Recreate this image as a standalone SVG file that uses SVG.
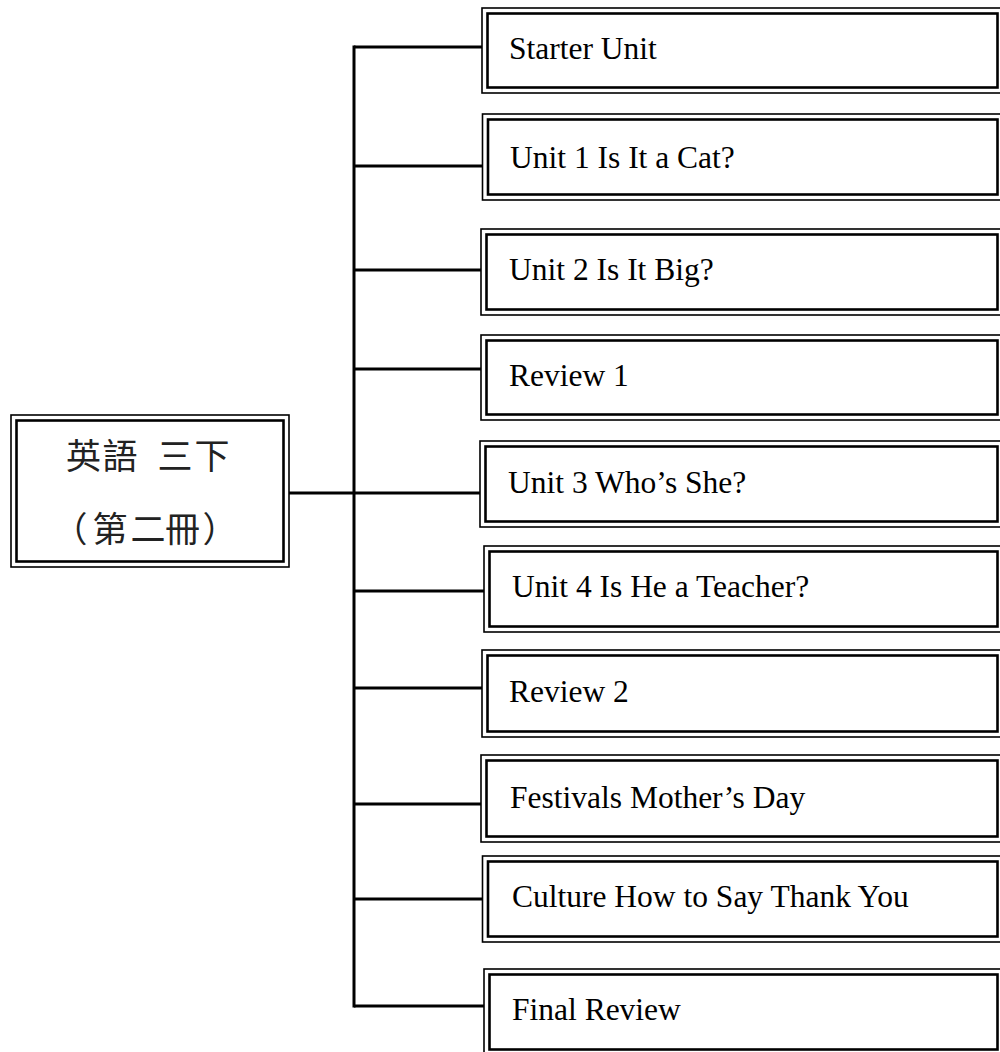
<svg xmlns="http://www.w3.org/2000/svg" width="1000" height="1052" viewBox="0 0 1000 1052">
<style>
.o{fill:#fff;stroke:#000;stroke-width:1.6}
.i{fill:none;stroke:#000;stroke-width:2.6}
.t{font-family:"Liberation Serif","Times New Roman",serif;font-size:31.5px;fill:#000}
.c{font-family:"Noto Sans CJK TC","Noto Sans CJK JP",sans-serif;font-size:35px;fill:#222;text-anchor:middle}
.ln{stroke:#000;stroke-width:3;fill:none}
</style>
<rect width="1000" height="1052" fill="#fff"/>
<g id="connectors">
<line class="ln" x1="354" y1="45.5" x2="354" y2="1007.5"/>
<line class="ln" x1="289" y1="493" x2="354" y2="493"/>
<line class="ln" x1="354" y1="47" x2="482" y2="47"/>
<line class="ln" x1="354" y1="166" x2="482" y2="166"/>
<line class="ln" x1="354" y1="270" x2="481" y2="270"/>
<line class="ln" x1="354" y1="369" x2="481" y2="369"/>
<line class="ln" x1="354" y1="493" x2="480" y2="493"/>
<line class="ln" x1="354" y1="591" x2="484" y2="591"/>
<line class="ln" x1="354" y1="688" x2="482" y2="688"/>
<line class="ln" x1="354" y1="804" x2="481" y2="804"/>
<line class="ln" x1="354" y1="899" x2="482" y2="899"/>
<line class="ln" x1="354" y1="1006" x2="484" y2="1006"/>
</g>
<g id="root">
<rect class="o" x="11" y="415" width="278" height="152"/>
<rect class="i" x="16.5" y="420.5" width="267" height="141"/>
<text class="c" x="83.5 120 147 175 212" y="469" xml:space="preserve">英語 三下</text>
<text class="c" x="70 110 148 182.5 220" y="542">（第二冊）</text>
</g>
<g id="n1">
<rect class="o" x="482" y="8" width="522" height="85"/>
<rect class="i" x="487.5" y="13.5" width="510" height="74"/>
<text class="t" x="509" y="59">Starter Unit</text>
</g>
<g id="n2">
<rect class="o" x="482.5" y="114" width="522" height="86"/>
<rect class="i" x="488" y="119.5" width="509.5" height="75"/>
<text class="t" x="510" y="168">Unit 1 Is It a Cat?</text>
</g>
<g id="n3">
<rect class="o" x="481" y="229" width="522" height="86"/>
<rect class="i" x="486.5" y="234.5" width="511" height="75"/>
<text class="t" x="509" y="280">Unit 2 Is It Big?</text>
</g>
<g id="n4">
<rect class="o" x="481" y="335" width="522" height="85"/>
<rect class="i" x="486.5" y="340.5" width="511" height="74"/>
<text class="t" x="509" y="386">Review 1</text>
</g>
<g id="n5">
<rect class="o" x="480" y="441" width="522" height="86"/>
<rect class="i" x="485.5" y="446.5" width="512" height="75"/>
<text class="t" x="508" y="493">Unit 3 Who’s She?</text>
</g>
<g id="n6">
<rect class="o" x="484" y="546" width="522" height="86"/>
<rect class="i" x="489.5" y="551.5" width="508" height="75"/>
<text class="t" x="512" y="597">Unit 4 Is He a Teacher?</text>
</g>
<g id="n7">
<rect class="o" x="482" y="650" width="522" height="87"/>
<rect class="i" x="487.5" y="655.5" width="510" height="76"/>
<text class="t" x="509" y="702">Review 2</text>
</g>
<g id="n8">
<rect class="o" x="481" y="755" width="522" height="87"/>
<rect class="i" x="486.5" y="760.5" width="511" height="76"/>
<text class="t" x="510" y="808">Festivals Mother’s Day</text>
</g>
<g id="n9">
<rect class="o" x="482.5" y="856" width="522" height="86"/>
<rect class="i" x="488" y="861.5" width="509.5" height="75"/>
<text class="t" x="512" y="907">Culture How to Say Thank You</text>
</g>
<g id="n10">
<rect class="o" x="484" y="969" width="522" height="90"/>
<rect class="i" x="489.5" y="974.5" width="508" height="75"/>
<text class="t" x="512" y="1020">Final Review</text>
</g>
</svg>
